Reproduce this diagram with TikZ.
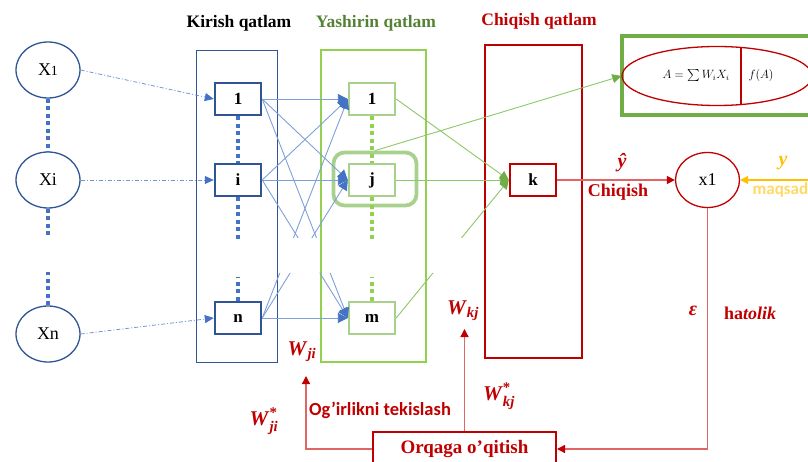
\documentclass[tikz,border=0pt]{standalone}
\usepackage{amsmath}
\usepackage{fontspec}
\setmainfont{Liberation Serif}
\newfontfamily\calib{Carlito}
\usetikzlibrary{arrows.meta,shapes.geometric}
\definecolor{dblue}{HTML}{2F5597}
\definecolor{ablue}{HTML}{4472C4}
\definecolor{lblue}{HTML}{7F9FDC}
\definecolor{bgreen}{HTML}{92D050}
\definecolor{hgreen}{HTML}{A9D18E}
\definecolor{lgreen}{HTML}{8CC866}
\definecolor{mgreen}{HTML}{70AD47}
\definecolor{tgreen}{HTML}{548235}
\definecolor{dred}{HTML}{C00000}
\definecolor{lred}{HTML}{E06666}
\definecolor{yel}{HTML}{FFC000}
\definecolor{lyel}{HTML}{FFD966}
\newcommand{\wsub}[1]{$\textbf{\textit{W}}_{\textbf{\textit{#1}}}$}
\newcommand{\wsubs}[1]{$\textbf{\textit{W}}^{\textbf{*}}_{\textbf{\textit{#1}}}$}
\begin{document}
\begin{tikzpicture}[x=1pt,y=-1pt,
 inell/.style={ellipse, draw=dblue, line width=1.3pt, minimum width=64pt, minimum height=56pt, inner sep=0pt, fill=white, font=\fontsize{18}{18}\selectfont},
 innode/.style={draw=dblue, line width=2.4pt, minimum width=46pt, minimum height=32pt, inner sep=0pt, fill=white, font=\bfseries\fontsize{17}{17}\selectfont},
 hnode/.style={innode, draw=hgreen},
 dotsB/.style={draw=ablue, line width=4.5pt, dash pattern=on 4pt off 3.5pt},
 dotsG/.style={dotsB, draw=bgreen},
 inarr/.style={draw=ablue!75, line width=0.8pt, dash pattern=on 4pt off 2pt on 1pt off 2pt, -{Triangle[length=9pt,width=8pt,color=ablue]}},
 conn/.style={draw=lblue, line width=0.9pt, -{Triangle[length=10pt,width=10pt,color=ablue]}},
 gconn/.style={draw=lgreen, line width=0.9pt, -{Triangle[length=9pt,width=9pt,color=mgreen]}},
 rline/.style={draw=lred, line width=1.3pt, -{Triangle[length=8pt,width=8pt,color=dred]}},
 ttl/.style={font=\bfseries\fontsize{17.5}{17.5}\selectfont},
 wlab/.style={text=dred, font=\fontsize{21}{21}\selectfont},
]
\useasboundingbox (0,0) rectangle (808,462);

% titles
\node[ttl, text=black] (t1) at (239,23) {Kirish qatlam};
\node[ttl, text=tgreen] (t2) at (376,23) {Yashirin qatlam};
\node[ttl, text=dred] (t3) at (539,21) {Chiqish qatlam};

% layer boxes
\node[draw=dblue, line width=1.2pt, minimum width=81pt, minimum height=312pt] (inbox) at (237,206.5) {};
\node[draw=bgreen, line width=1.2pt, minimum width=105pt, minimum height=312pt] (hbox) at (373.5,206) {};
\node[draw=dred, line width=1.5pt, minimum width=97pt, minimum height=313pt] (obox) at (533.5,201.5) {};

% input ellipses
\node[inell] (x1) at (48,70) {X{\fontsize{14}{14}\selectfont 1}};
\node[inell] (xi) at (48,180) {Xi};
\node[inell] (xn) at (48,334) {Xn};
\draw[dotsB] (x1.south) -- (xi.north);
\draw[dotsB] (xi.south) -- ++(0,26);
\draw[dotsB] (xn.north) -- ++(0,-33);

% input nodes
\node[innode] (i1) at (238,99) {1};
\node[innode] (ii) at (238,180) {i};
\node[innode] (iN) at (238,318) {n};
\draw[dotsB] (i1.south) -- (ii.north);
\draw[dotsB] (ii.south) -- ++(0,42);
\draw[dotsB] (iN.north) -- ++(0,-24);

% hidden nodes
\node[draw=hgreen, line width=3.8pt, rounded corners=11pt, minimum width=83pt, minimum height=53pt] (hl) at (375,179) {};
\node[hnode] (h1) at (372,99) {1};
\node[hnode] (hj) at (372,180) {j};
\node[hnode] (hm) at (372,318) {m};
\draw[dotsG] (h1.south) -- (hj.north);
\draw[dotsG] (hj.south) -- ++(0,42);
\draw[dotsG] (hm.north) -- ++(0,-24);

% output node
\node[innode, draw=dred] (k) at (533,180) {k};
\node[ellipse, draw=dred, line width=1.3pt, minimum width=64pt, minimum height=55pt, inner sep=0pt, font=\fontsize{18}{18}\selectfont] (xo) at (707.5,180) {x1};

% input arrows
\draw[inarr] (x1.east) -- (i1.west);
\draw[inarr] (xi.east) -- (ii.west);
\draw[inarr] (xn.east) -- (iN.west);

% connections (interrupted band)
\begin{scope}
\clip (0,0) rectangle (808,238) (0,273) rectangle (808,462);
\foreach \a in {i1,ii,iN}
  \foreach \b in {h1,hj,hm}
    \draw[conn] (\a.east) -- (\b.west);
\foreach \b in {h1,hj,hm}
  \draw[gconn] (\b.east) -- (k.west);
\end{scope}

% formula
\node[draw=mgreen, line width=4pt, minimum width=190pt, minimum height=79pt] (fbox) at (717,75.5) {};
\node[ellipse, draw=dred, line width=1.3pt, minimum width=190pt, minimum height=59pt] (fe) at (717,76) {};
\draw[dred, line width=1.8pt] (741,47.5) -- (741,104.5);
\node[font=\fontsize{12}{12}\selectfont] (fa) at (696,76) {$A=\sum W_iX_i$};
\node[font=\fontsize{12}{12}\selectfont] (ff) at (761,76) {$f(A)$};
\draw[gconn] (hl.north) -- (fe.west);

% output arrow
\draw[rline] (k.east) -- (xo.west);
\node[text=dred, font=\bfseries\itshape\fontsize{20}{20}\selectfont] (yh) at (622,163) {ŷ};
\node[text=dred, font=\bfseries\fontsize{18}{18}\selectfont] (chq) at (618,192) {Chiqish};

% target
\coordinate (yin) at (815,180);
\draw[draw=yel, line width=1.3pt, -{Triangle[length=8pt,width=8pt,color=yel]}] (yin) -- (xo.east);
\node[text=yel, font=\bfseries\itshape\fontsize{20}{20}\selectfont] (ylab) at (783,163) {y};
\node[anchor=west, text=lyel, font=\calib\bfseries\fontsize{17}{17}\selectfont] (maq) at (749,190) {maqsad};

% backprop
\node[draw=dred, line width=2pt, minimum width=183pt, minimum height=34pt, inner sep=0pt, text=dred, font=\bfseries\fontsize{19}{19}\selectfont] (back) at (464.5,449) {Orqaga o’qitish};
\coordinate (wjt) at (306,376);
\coordinate (wkt) at (464.5,329);
\draw[rline] (xo.south) |- (back.east);
\draw[rline] (back.west) -| (wjt);
\draw[rline] (back.north) -- (wkt);

% labels
\node[text=dred, font=\bfseries\itshape\fontsize{20}{20}\selectfont] (eps) at (693,311) {ε};
\node[text=dred, font=\bfseries\fontsize{18}{18}\selectfont] (hat) at (750,313) {ha\textit{tolik}};
\node[wlab] (wkj) at (463,311) {\wsub{kj}};
\node[wlab] (wji) at (302,352) {\wsub{ji}};
\node[wlab] (wjis) at (264,421) {\wsubs{ji}};
\node[wlab] (wkjs) at (499,396) {\wsubs{kj}};
\node[text=dred, font=\calib\bfseries\fontsize{18.5}{18.5}\selectfont] (ogl) at (380,410) {Og’irlikni tekislash};
\end{tikzpicture}
\end{document}
